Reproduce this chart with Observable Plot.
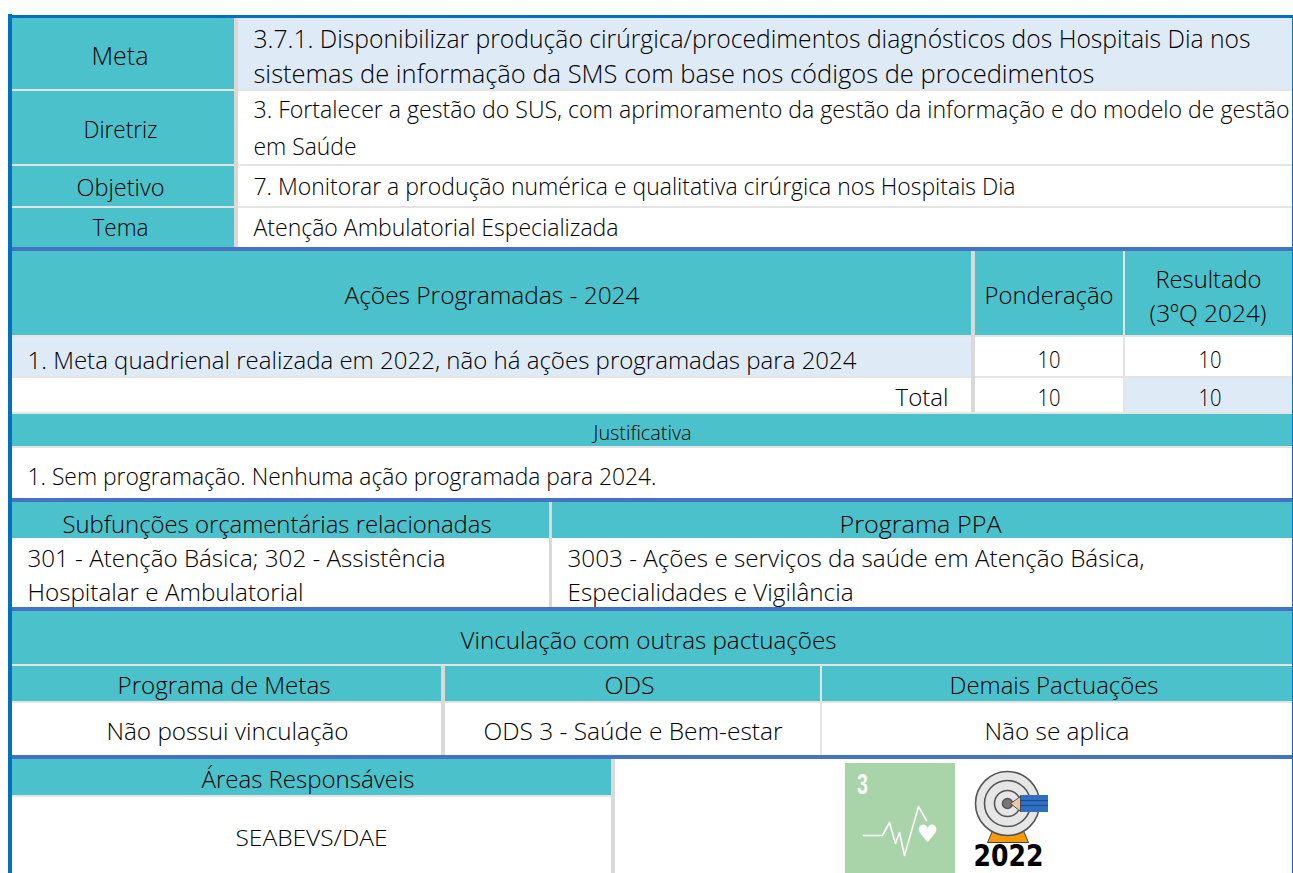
<!DOCTYPE html>
<html lang="pt-BR">
<head>
<meta charset="utf-8">
<title>Meta 3.7.1</title>
<script src="https://cdn.jsdelivr.net/npm/d3@7"></script>
<script src="https://cdn.jsdelivr.net/npm/@observablehq/plot@0.6"></script>
<style>html,body{margin:0;padding:0;background:#fff}svg{display:block}</style>
</head>
<body>
<div id="chart"></div>
<script>
// Table text, one entry per rendered line
const labels = [
  "Meta",
  "3.7.1. Disponibilizar produção cirúrgica/procedimentos diagnósticos dos Hospitais Dia nos",
  "sistemas de informação da SMS com base nos códigos de procedimentos",
  "Diretriz",
  "3. Fortalecer a gestão do SUS, com aprimoramento da gestão da informação e do modelo de gestão",
  "em Saúde",
  "Objetivo",
  "7. Monitorar a produção numérica e qualitativa cirúrgica nos Hospitais Dia",
  "Tema",
  "Atenção Ambulatorial Especializada",
  "Ações Programadas - 2024",
  "Ponderação",
  "Resultado",
  "(3ºQ 2024)",
  "1. Meta quadrienal realizada em 2022, não há ações programadas para 2024",
  "10",
  "10",
  "Total",
  "10",
  "10",
  "Justificativa",
  "1. Sem programação. Nenhuma ação programada para 2024.",
  "Subfunções orçamentárias relacionadas",
  "Programa PPA",
  "301 - Atenção Básica; 302 - Assistência",
  "Hospitalar e Ambulatorial",
  "3003 - Ações e serviços da saúde em Atenção Básica,",
  "Especialidades e Vigilância",
  "Vinculação com outras pactuações",
  "Programa de Metas",
  "ODS",
  "Demais Pactuações",
  "Não possui vinculação",
  "ODS 3 - Saúde e Bem-estar",
  "Não se aplica",
  "Áreas Responsáveis",
  "SEABEVS/DAE"
];

// Layout of those lines, kept apart from the text
const labelLeft  = [91,253,253,83,253,253,76,253,92,253,344,984,1155,1149,27,1037,1198,895,1037,1198,593,27,62,839,27,27,567,567,460,117,604,949,106,483,984,201,235];
const labelRight = [148,1250,1094,157,1289,356,164,1015,148,618,639,1113,1261,1266,856,1060,1221,948,1060,1221,691,656,491,1001,445,303,1144,853,836,330,654,1158,348,782,1129,414,387];
const labelMid   = [56,39.5,74.5,130,110.5,146.5,188.5,186.5,228.5,227.5,295.5,295.5,279.5,313.5,360.5,359.5,359.5,397.5,397.5,397.5,432.5,476.5,524.5,524.5,558.5,592.5,558.5,592.5,640.5,685.5,685.5,685.5,731.5,731.5,731.5,779.5,838.5];
const labelSize  = [26,25,25,23,23,24,23,24,23,24,24,24,24,24,24,24,24,24,24,24,21,24,24,24,24,24,24,24,24,24,24,24,24,24,24,24,22];

// Cell fills: [x1, x2, y1, y2, colour]
const teal = "#4bc2cb", pale = "#deeaf6", rule = "#e4e4e4", bar = "#d9d9d9", section = "#4472c4", frame = "#0070c0";
const cells = [
  [12,234,18,89,teal],[12,234,91,164,teal],[12,234,166,206,teal],[12,234,208,247,teal],
  [238,1292,18,89,pale],
  [12,1292,251,335,teal],[12,971,337,376,pale],[1125,1292,378,412,pale],
  [12,1292,414,446,teal],[12,1292,502,538,teal],[12,1292,611,664,teal],[12,1292,666,701,teal],
  [12,611,759,795,teal],
  // thin light rules
  [12,1292,89,91,rule],[12,1292,164,166,rule],[12,1292,206,208,rule],
  [12,1292,335,337,rule],[12,1292,376,378,rule],[12,1292,412,414,rule],[12,1292,446,448,rule],
  [12,1292,664,666,rule],[12,1292,701,703,rule],[12,611,795,797,rule],
  // vertical rules
  [234,238,18,247,bar],[971,975,251,412,bar],[1123,1125,251,412,rule],
  [549,552,502,607,bar],[441,445,666,755,bar],[820,822,666,755,rule],[611,615,759,873,bar],
  // section rules
  [12,1292,247,251,section],[12,1292,498,502,section],[12,1292,607,611,section],[12,1292,755,759,section],
  // outer frame
  [8,1293,15,18,frame],[8,12,14,873,frame],[1292,1293,15,873,frame],
  // pictogram panel
  [845,955,763,873,"#a9d3a8"]
];

// Goal badge parts (pictogram shapes)
const pulse = [[863,835],[882,835],[889,822],[895,843],[899,832],[904,855],[918,806],[926,820]];
const baseShape = [[993,828],[1022,828],[1028,842],[987,842]];
const pencilBody = [[1020,795,1048,812]];
const pencilTip = [[1020,796],[1020,811],[1010,803]];
const pencilBands = [800,805];
const rings = [
  {r:32,fill:"#e6e6e6"},{r:23,fill:"#e6e6e6"},{r:13,fill:"#e6e6e6"},{r:5,fill:"#777777"}
];
const badgeCentre = [1007,803];

const cellRows = cells.map(([x1,x2,y1,y2,fill]) => ({x1,x2,y1,y2,fill}));
const labelRows = labels.map((text,i) => ({text, x:labelLeft[i], y:labelMid[i], size:labelSize[i], len:labelRight[i]-labelLeft[i]}));
const xOf = d => d[0], yOf = d => d[1];

const plot = Plot.plot({
  width:1293, height:873,
  margin:0,
  x:{domain:[0,1293], range:[0,1293], axis:null},
  y:{domain:[0,873], range:[0,873], axis:null},
  r:{type:"identity"},
  color:{type:"identity"},
  style:{background:"#fff"},
  marks:[
    Plot.rect(cellRows,{x1:"x1",x2:"x2",y1:"y1",y2:"y2",fill:"fill",shapeRendering:"crispEdges"}),
    Plot.line(baseShape.concat([baseShape[0]]),{x:xOf,y:yOf,fill:"#f59b0b",stroke:"#444",strokeWidth:1,curve:"linear"}),
    Plot.dot(rings,{x:()=>badgeCentre[0],y:()=>badgeCentre[1],r:"r",fill:"fill",stroke:"#555",strokeWidth:1.6}),
    Plot.rect(pencilBody,{x1:d=>d[0],y1:d=>d[1],x2:d=>d[2],y2:d=>d[3],fill:"#2f6fc0"}),
    Plot.line(pencilTip.concat([pencilTip[0]]),{x:xOf,y:yOf,fill:"#f0c8a0",stroke:"#333",strokeWidth:0.8}),
    Plot.ruleY(pencilBands,{x1:1020,x2:1048,stroke:"#174a8c",strokeWidth:1}),
    Plot.line(pulse,{x:xOf,y:yOf,stroke:"#fff",strokeWidth:1.6,curve:"linear"}),
    Plot.text(["♥"],{x:()=>927,y:()=>834,text:d=>d,fill:"#fff",fontSize:24,fontFamily:"DejaVu Sans"}),
    Plot.text(["3"],{x:()=>862,y:()=>784,text:d=>d,fill:"#fff",fontSize:29,fontWeight:700,fontFamily:"Liberation Sans Narrow, Liberation Sans",opacity:0.9}),
    Plot.text(["2022"],{x:()=>1008,y:()=>856,text:d=>d,fill:"#000",fontSize:30,fontWeight:700,fontFamily:"DejaVu Sans"}),
    Plot.text(labelRows,{
      x:"x",y:"y",text:"text",fontSize:"size",textAnchor:"start",fill:"#000",
      fontFamily:"'Open Sans','Noto Sans',sans-serif",fontWeight:300,className:"cell-label"
    })
  ]
});

// Fit each line to the width it occupies in the table
d3.select(plot).selectAll(".cell-label text").each(function(_,i){
  this.setAttribute("textLength",labelRows[i].len);
  this.setAttribute("lengthAdjust","spacingAndGlyphs");
});
const fit = (content, len) => {
  const t = [...plot.querySelectorAll("text")].find(t => t.textContent === content);
  if (t) { t.setAttribute("textLength",len); t.setAttribute("lengthAdjust","spacingAndGlyphs"); }
};
fit("2022",70);
fit("3",11);
document.getElementById("chart").appendChild(plot);
</script>
</body>
</html>
